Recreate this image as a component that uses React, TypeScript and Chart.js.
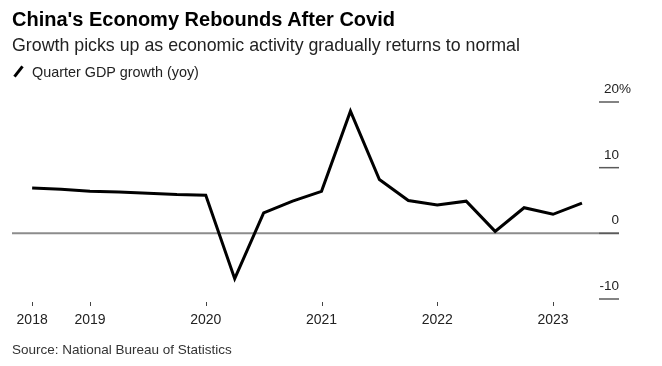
import React, { useEffect, useRef } from "react";
import { Chart, registerables } from "chart.js";

Chart.register(...registerables);

// Quarter end positions (fractional years) and yoy GDP growth, %
const quarterX = [
  2018.5, 2018.75, 2019.0, 2019.25, 2019.5, 2019.75, 2020.0,
  2020.25, 2020.5, 2020.75, 2021.0, 2021.25, 2021.5, 2021.75,
  2022.0, 2022.25, 2022.5, 2022.75, 2023.0, 2023.25,
];
const gdpGrowth = [
  6.9, 6.7, 6.4, 6.3, 6.1, 5.9, 5.8,
  -6.9, 3.1, 4.9, 6.4, 18.6, 8.2, 5.0,
  4.3, 4.9, 0.3, 3.9, 2.9, 4.6,
];
const xTickValues = [2018.5, 2019, 2020, 2021, 2022, 2023];
const xTickLabels = ["2018", "2019", "2020", "2021", "2022", "2023"];
const yTickValues = [20, 10, 0, -10];
const yTickLabels = ["20", "10", "0", "-10"];

const FONT = '"Liberation Sans", Arial, Helvetica, sans-serif';

const bbgAxes = {
  id: "bbgAxes",
  beforeDatasetsDraw(chart: any) {
    const { ctx, chartArea: ca, scales } = chart;
    const y = scales.y;
    ctx.save();
    yTickValues.forEach((v) => {
      const py = y.getPixelForValue(v);
      if (v === 0) {
        ctx.strokeStyle = "#8c8c8c";
        ctx.lineWidth = 2;
        ctx.beginPath();
        ctx.moveTo(ca.left, py);
        ctx.lineTo(ca.right, py);
        ctx.stroke();
      }
      ctx.strokeStyle = "#5a5a5a";
      ctx.lineWidth = 1.5;
      ctx.beginPath();
      ctx.moveTo(ca.right - 20, py);
      ctx.lineTo(ca.right, py);
      ctx.stroke();
    });
    ctx.restore();
  },
  afterDraw(chart: any) {
    const { ctx, chartArea: ca, scales } = chart;
    const y = scales.y;
    const x = scales.x;
    ctx.save();
    ctx.font = `13.5px ${FONT}`;
    ctx.fillStyle = "#222";
    ctx.textBaseline = "alphabetic";
    yTickValues.forEach((v, i) => {
      const py = y.getPixelForValue(v) - 9;
      ctx.textAlign = "right";
      ctx.fillText(yTickLabels[i], ca.right, py);
      if (i === 0) {
        ctx.textAlign = "left";
        ctx.fillText("%", ca.right, py);
      }
    });
    ctx.strokeStyle = "#444";
    ctx.lineWidth = 1;
    xTickValues.forEach((v) => {
      const px = Math.round(x.getPixelForValue(v)) + 0.5;
      ctx.beginPath();
      ctx.moveTo(px, ca.bottom + 3);
      ctx.lineTo(px, ca.bottom + 7);
      ctx.stroke();
    });
    ctx.restore();
  },
};

export default function App() {
  const canvasRef = useRef<HTMLCanvasElement | null>(null);

  useEffect(() => {
    if (!canvasRef.current) return;
    const chart = new Chart(canvasRef.current, {
      type: "line",
      data: {
        datasets: [
          {
            label: "Quarter GDP growth (yoy)",
            data: quarterX.map((xv, i) => ({ x: xv, y: gdpGrowth[i] })),
            borderColor: "#000",
            borderWidth: 3,
            pointRadius: 0,
            tension: 0,
            fill: false,
            borderJoinStyle: "miter",
          },
        ],
      },
      options: {
        responsive: false,
        animation: false,
        devicePixelRatio: 1,
        layout: { padding: { left: 12, right: 43, top: 102, bottom: 37 } },
        plugins: { legend: { display: false }, tooltip: { enabled: false } },
        scales: {
          x: {
            type: "linear",
            min: 2018.326,
            max: 2023.57,
            afterBuildTicks: (s: any) => {
              s.ticks = xTickValues.map((v) => ({ value: v }));
            },
            afterFit: (s: any) => {
              s.height = 30;
            },
            grid: { display: false, drawTicks: false },
            border: { display: false },
            ticks: {
              autoSkip: false,
              maxRotation: 0,
              padding: 13,
              color: "#222",
              font: { family: FONT, size: 14 },
              callback: (v: any) => {
                const idx = xTickValues.indexOf(Number(v));
                return idx >= 0 ? xTickLabels[idx] : "";
              },
            },
          },
          y: { display: false, min: -10, max: 20 },
        },
      } as any,
      plugins: [bbgAxes],
    });
    return () => chart.destroy();
  }, []);

  const base: React.CSSProperties = {
    position: "absolute",
    left: 12,
    whiteSpace: "nowrap",
    fontFamily: FONT,
    margin: 0,
  };

  return (
    <div
      style={{
        position: "absolute",
        left: 0,
        top: 0,
        width: 662,
        height: 366,
        background: "#fff",
        overflow: "hidden",
      }}
    >
      <canvas
        ref={canvasRef}
        width={662}
        height={366}
        style={{ position: "absolute", left: 0, top: 0, width: 662, height: 366 }}
      />
      <div style={{ ...base, top: 9, fontSize: 20, lineHeight: "20px", fontWeight: 700, color: "#000" }}>
        China's Economy Rebounds After Covid
      </div>
      <div style={{ ...base, top: 37, fontSize: 17.8, lineHeight: "17.8px", color: "#222" }}>
        Growth picks up as economic activity gradually returns to normal
      </div>
      <div
        style={{
          position: "absolute",
          left: 12,
          top: 70,
          width: 13,
          height: 3,
          background: "#000",
          transform: "rotate(-52deg)",
        }}
      />
      <div style={{ ...base, left: 32, top: 65, fontSize: 14.4, lineHeight: "14.4px", color: "#222" }}>
        Quarter GDP growth (yoy)
      </div>
      <div style={{ ...base, top: 343, fontSize: 13.5, lineHeight: "13.5px", color: "#333" }}>
        Source: National Bureau of Statistics
      </div>
    </div>
  );
}
